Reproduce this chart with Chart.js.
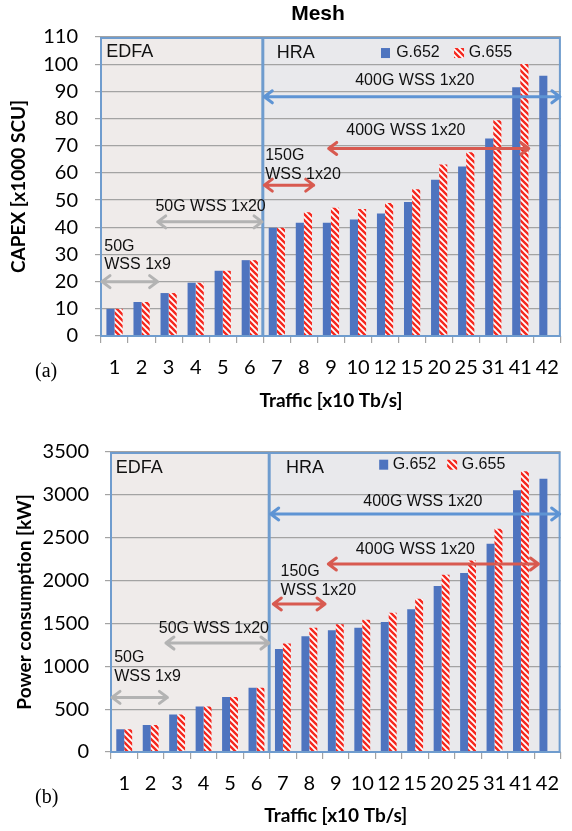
<!DOCTYPE html>
<html>
<head>
<meta charset="utf-8">
<script src="https://cdn.jsdelivr.net/npm/chart.js@4.4.0/dist/chart.umd.min.js"></script>
<style>
    html, body { margin: 0; padding: 0; background: #fff; }
    #wrap { position: relative; width: 572px; height: 831px; overflow: hidden; }
    canvas { position: absolute; left: 0; }
    #capexChart { top: 0; }
    #powerChart { top: 420px; }
</style>
</head>
<body>
<div id="wrap">
    <canvas id="capexChart" width="572" height="420"></canvas>
    <canvas id="powerChart" width="572" height="411"></canvas>
</div>
<script>
// traffic steps on the x axis (x10 Tb/s)
const trafficLabels = ['1', '2', '3', '4', '5', '6', '7', '8', '9', '10', '12', '15', '20', '25', '31', '41', '42'];

// (a) CAPEX in x1000 SCU
const capexG652 = [10, 12.5, 15.8, 19.6, 24, 27.9, 39.8, 41.7, 41.7, 42.9, 45.1, 49.3, 57.5, 62.4, 72.7, 91.5, 95.7];
const capexG655 = [10, 12.5, 15.8, 19.6, 24, 27.9, 39.8, 45.5, 47.2, 46.7, 48.9, 54, 63.1, 67.6, 79.4, 100.1, null];
const capexTicks = [0, 10, 20, 30, 40, 50, 60, 70, 80, 90, 100, 110];

// (b) power consumption in kW
const powerG652 = [265, 315, 438, 532, 642, 751, 1202, 1350, 1420, 1451, 1517, 1665, 1937, 2089, 2431, 3053, 3189];
const powerG655 = [265, 315, 438, 532, 642, 751, 1265, 1451, 1490, 1544, 1626, 1789, 2069, 2233, 2606, 3275, null];
const powerTicks = [0, 500, 1000, 1500, 2000, 2500, 3000, 3500];

const seriesNames = ['G.652', 'G.655'];

const BLUE = '#4e74bf';
const RED = '#f5281e';
const GRAY_ARROW = '#b3b3b3';
const RED_ARROW = '#d85a50';
const BLUE_ARROW = '#5e94d4';
const BOX = '#6f9cce';

// red diagonal stripes on white for G.655
function makeHatch() {
    const c = document.createElement('canvas');
    c.width = 6;
    c.height = 6;
    const g = c.getContext('2d');
    g.fillStyle = '#fff';
    g.fillRect(0, 0, 6, 6);
    g.strokeStyle = RED;
    g.lineWidth = 2.4;
    for (let k = -1; k <= 1; k++) {
        g.beginPath();
        g.moveTo(-1, -1 + 6 * k);
        g.lineTo(7, 7 + 6 * k);
        g.stroke();
    }
    return g.createPattern(c, 'repeat');
}
const hatch = makeHatch();

// overlays, placed in category index / axis value units
const capexNotes = {
    regions: [
        { from: -0.5, to: 5.5, fill: '#efebea' },
        { from: 5.5, to: 16.5, fill: '#e9e9ec' }
    ],
    arrows: [
        { from: -0.5, to: 1.63, y: 20, color: GRAY_ARROW },
        { from: 1.56, to: 5.49, y: 42, color: GRAY_ARROW },
        { from: 5.5, to: 7.4, y: 55.5, color: RED_ARROW },
        { from: 7.88, to: 15.35, y: 69, color: RED_ARROW },
        { from: 5.5, to: 16.5, y: 88, color: BLUE_ARROW }
    ],
    texts: [
        { text: 'EDFA', x: -0.31, y: 104.6, align: 'left', size: 18 },
        { text: 'HRA', x: 6.0, y: 104.1, align: 'left', size: 18 },
        { text: '50G', x: -0.38, y: 32.9, align: 'left' },
        { text: 'WSS 1x9', x: -0.38, y: 26.1, align: 'left' },
        { text: '50G WSS 1x20', x: 3.55, y: 47.6, align: 'center' },
        { text: '150G', x: 5.57, y: 66.2, align: 'left' },
        { text: 'WSS 1x20', x: 5.57, y: 59.5, align: 'left' },
        { text: '400G WSS 1x20', x: 10.77, y: 75.5, align: 'center' },
        { text: '400G WSS 1x20', x: 11.1, y: 93.9, align: 'center' }
    ],
    legend: [
        { x: 9.85, y: 104.1, swatch: BLUE },
        { x: 10.41, y: 104.1, text: seriesNames[0] },
        { x: 12.55, y: 104.1, swatch: 'hatch' },
        { x: 13.09, y: 104.1, text: seriesNames[1] }
    ],
    title: { text: 'Mesh', px: 318, py: 14 },
    panel: { text: '(a)', px: 35, py: 372 }
};

const powerNotes = {
    regions: [
        { from: -0.5, to: 5.5, fill: '#efebea' },
        { from: 5.5, to: 16.5, fill: '#e9e9ec' }
    ],
    arrows: [
        { from: -0.5, to: 1.67, y: 637, color: GRAY_ARROW },
        { from: 1.54, to: 5.51, y: 1271, color: GRAY_ARROW },
        { from: 5.6, to: 7.63, y: 1727, color: RED_ARROW },
        { from: 7.68, to: 15.7, y: 2193, color: RED_ARROW },
        { from: 5.5, to: 16.5, y: 2777, color: BLUE_ARROW }
    ],
    texts: [
        { text: 'EDFA', x: -0.32, y: 3313, align: 'left', size: 18 },
        { text: 'HRA', x: 6.12, y: 3313, align: 'left', size: 18 },
        { text: '50G', x: -0.38, y: 1097, align: 'left' },
        { text: 'WSS 1x9', x: -0.38, y: 882, align: 'left' },
        { text: '50G WSS 1x20', x: 3.39, y: 1438, align: 'center' },
        { text: '150G', x: 5.91, y: 2107, align: 'left' },
        { text: 'WSS 1x20', x: 5.91, y: 1885, align: 'left' },
        { text: '400G WSS 1x20', x: 11.01, y: 2360, align: 'center' },
        { text: '400G WSS 1x20', x: 11.29, y: 2917, align: 'center' }
    ],
    legend: [
        { x: 9.64, y: 3352, swatch: BLUE },
        { x: 10.15, y: 3352, text: seriesNames[0] },
        { x: 12.21, y: 3352, swatch: 'hatch' },
        { x: 12.76, y: 3352, text: seriesNames[1] }
    ],
    panel: { text: '(b)', px: 35, py: 378 }
};

function drawArrow(ctx, x1, x2, y, color) {
    const head = 9, half = 6;
    ctx.save();
    ctx.strokeStyle = color;
    ctx.lineWidth = 3;
    ctx.lineCap = 'round';
    ctx.lineJoin = 'round';
    ctx.beginPath();
    ctx.moveTo(x1 + 1, y);
    ctx.lineTo(x2 - 1, y);
    ctx.moveTo(x1 + head, y - half);
    ctx.lineTo(x1 + 1, y);
    ctx.lineTo(x1 + head, y + half);
    ctx.moveTo(x2 - head, y - half);
    ctx.lineTo(x2 - 1, y);
    ctx.lineTo(x2 - head, y + half);
    ctx.stroke();
    ctx.restore();
}

function makeOverlay(notes) {
    return {
        id: 'overlay',
        beforeDraw(chart) {
            const { ctx, chartArea, scales: { x } } = chart;
            notes.regions.forEach(r => {
                const l = x.getPixelForValue(r.from);
                const rr = x.getPixelForValue(r.to);
                ctx.fillStyle = r.fill;
                ctx.fillRect(l, chartArea.top, rr - l, chartArea.bottom - chartArea.top);
            });
        },
        afterDraw(chart) {
            const { ctx, chartArea, scales: { x, y } } = chart;
            ctx.save();

            // EDFA / HRA frames
            ctx.strokeStyle = BOX;
            ctx.lineWidth = 2;
            notes.regions.forEach(r => {
                const l = x.getPixelForValue(r.from);
                const rr = x.getPixelForValue(r.to);
                ctx.strokeRect(l, chartArea.top + 1, rr - l - 1, chartArea.bottom - chartArea.top - 1);
            });

            notes.arrows.forEach(a => {
                drawArrow(ctx, x.getPixelForValue(a.from), x.getPixelForValue(a.to), y.getPixelForValue(a.y), a.color);
            });

            ctx.fillStyle = '#111';
            ctx.textBaseline = 'middle';
            notes.texts.forEach(t => {
                ctx.font = (t.size || 16) + 'px "Liberation Sans", Arial, sans-serif';
                ctx.textAlign = t.align;
                ctx.fillText(t.text, x.getPixelForValue(t.x), y.getPixelForValue(t.y));
            });

            // legend
            notes.legend.forEach(item => {
                const px = x.getPixelForValue(item.x);
                const py = y.getPixelForValue(item.y);
                if (item.swatch === 'hatch') {
                    ctx.fillStyle = hatch;
                    ctx.fillRect(px, py - 5, 10, 10);
                } else if (item.swatch) {
                    ctx.fillStyle = item.swatch;
                    ctx.fillRect(px, py - 5, 9, 10);
                } else {
                    ctx.fillStyle = '#111';
                    ctx.font = '16px "Liberation Sans", Arial, sans-serif';
                    ctx.textAlign = 'left';
                    ctx.fillText(item.text, px, py);
                }
            });

            if (notes.title) {
                ctx.fillStyle = '#000';
                ctx.font = 'bold 21px "Liberation Sans", Arial, sans-serif';
                ctx.textAlign = 'center';
                ctx.fillText(notes.title.text, notes.title.px, notes.title.py);
            }
            ctx.fillStyle = '#000';
            ctx.font = '20px "Liberation Serif", "Times New Roman", serif';
            ctx.textAlign = 'left';
            ctx.fillText(notes.panel.text, notes.panel.px, notes.panel.py);
            ctx.restore();
        }
    };
}

function buildChart(canvasId, cfg) {
    const ctx = document.getElementById(canvasId).getContext('2d');
    const ticks = cfg.ticks;
    return new Chart(ctx, {
        type: 'bar',
        data: {
            labels: trafficLabels,
            datasets: [{
                label: seriesNames[0],
                data: cfg.a,
                backgroundColor: BLUE,
                borderWidth: 0,
                categoryPercentage: 0.6,
                barPercentage: 1.0
            }, {
                label: seriesNames[1],
                data: cfg.b,
                backgroundColor: hatch,
                borderWidth: 0,
                categoryPercentage: 0.6,
                barPercentage: 1.0
            }]
        },
        options: {
            responsive: false,
            animation: false,
            devicePixelRatio: 1,
            layout: {
                padding: cfg.padding
            },
            plugins: {
                legend: { display: false },
                tooltip: { enabled: false },
                title: { display: false }
            },
            scales: {
                x: {
                    offset: true,
                    grid: {
                        offset: true,
                        drawOnChartArea: false,
                        drawTicks: true,
                        tickLength: 7,
                        color: '#a3a3a3',
                        lineWidth: 1.2
                    },
                    border: { display: false },
                    ticks: {
                        autoSkip: false,
                        maxRotation: 0,
                        color: '#000',
                        padding: 13,
                        font: { family: 'Lato', size: 20 }
                    },
                    title: {
                        display: true,
                        text: 'Traffic [x10 Tb/s]',
                        color: '#000',
                        font: { family: 'Lato', size: 19, weight: 'bold' },
                        padding: { top: 0, bottom: cfg.xTitlePad }
                    },
                    afterFit: function(scale) {
                        scale.height = cfg.xHeight;
                    }
                },
                y: {
                    min: ticks[0],
                    max: ticks[ticks.length - 1],
                    ticks: {
                        stepSize: ticks[1] - ticks[0],
                        color: '#000',
                        padding: cfg.yTickPad,
                        font: { family: 'Lato', size: 20 },
                        callback: function(value) {
                            return String(value);
                        }
                    },
                    grid: {
                        color: '#a3a3a3',
                        lineWidth: 1.2,
                        tickLength: 6
                    },
                    border: { display: false },
                    title: {
                        display: true,
                        text: cfg.yTitle,
                        color: '#000',
                        font: { family: 'Lato', size: 19, weight: 'bold' },
                        padding: { top: cfg.yTitlePad, bottom: 0 }
                    },
                    afterFit: function(scale) {
                        scale.width = cfg.yWidth;
                    }
                }
            }
        },
        plugins: [makeOverlay(cfg.notes)]
    });
}

document.addEventListener('DOMContentLoaded', () => {
    buildChart('capexChart', {
        a: capexG652,
        b: capexG655,
        ticks: capexTicks,
        yTitle: 'CAPEX [x1000 SCU]',
        padding: { top: 37, right: 1, left: 0, bottom: 0 },
        xHeight: 84,
        xTitlePad: 8,
        yWidth: 101,
        yTickPad: 17,
        yTitlePad: 7,
        notes: capexNotes
    });
    buildChart('powerChart', {
        a: powerG652,
        b: powerG655,
        ticks: powerTicks,
        yTitle: 'Power consumption [kW]',
        padding: { top: 32, right: 0, left: 0, bottom: 0 },
        xHeight: 79,
        xTitlePad: 4,
        yWidth: 111,
        yTickPad: 16,
        yTitlePad: 13,
        notes: powerNotes
    });
});
</script>
</body>
</html>
